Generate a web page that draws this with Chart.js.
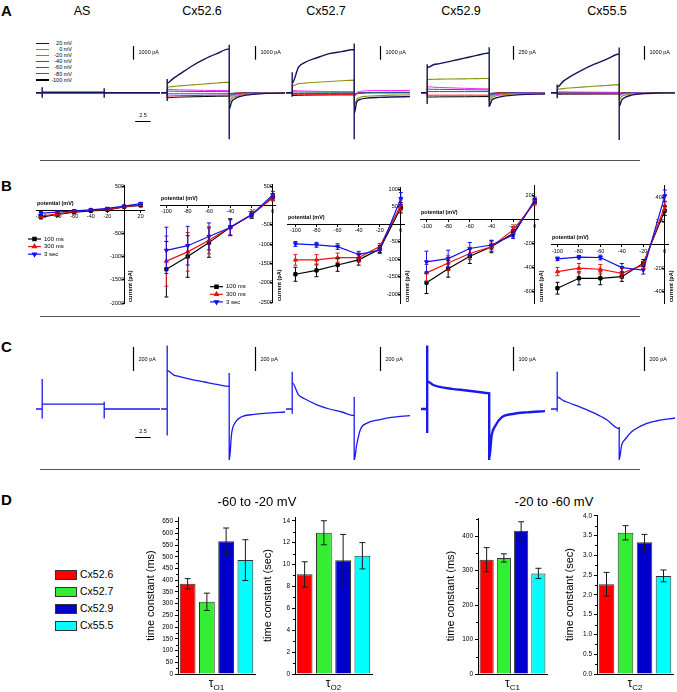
<!DOCTYPE html>
<html>
<head>
<meta charset="utf-8">
<title>Hemichannel currents</title>
<script src="https://cdn.jsdelivr.net/npm/chart.js@4.4.1/dist/chart.umd.min.js"></script>
<style>
  body { margin: 0; background: #fff; }
  #fig { position: relative; width: 677px; height: 692px; overflow: hidden;
         font-family: "Liberation Sans", Arial, sans-serif; color: #000; }
  #fig canvas, #fig .t { position: absolute; }
  .t { white-space: nowrap; }
  .letter { font-weight: bold; font-size: 15px; }
  .title { font-size: 12.5px; transform: translateX(-50%); }
</style>
</head>
<body>
<div id="fig"></div>
<script>
// ---------------- data ----------------
const cells = ['AS', 'Cx52.6', 'Cx52.7', 'Cx52.9', 'Cx55.5'];
const voltages = ['20 mV', '0 mV', '-20 mV', '-40 mV', '-60 mV', '-80 mV', '-100 mV'];

const tPre = [-1, 0];
const tPulse = [0, 1, 2, 4, 6, 8, 10];
const tTail = [10, 10.4, 11, 12, 14, 16, 19];

// A: current (pA) during the pulse / after it, rows = voltages
const pulseAS = [[30,30,30,30,30,30,30],[15,15,15,15,15,15,15],[5,5,5,5,5,5,5],[0,0,0,0,0,0,0],
                 [-10,-10,-10,-10,-10,-10,-10],[-20,-20,-20,-20,-20,-20,-20],[-30,-30,-30,-30,-30,-30,-30]];
const tailAS = [[0,0,0,0,0,0,0],[0,0,0,0,0,0,0],[0,0,0,0,0,0,0],[0,0,0,0,0,0,0],
                [0,0,0,0,0,0,0],[0,0,0,0,0,0,0],[0,0,0,0,0,0,0]];
const pulse526 = [[700,1050,1350,1950,2450,2850,3200],[400,460,500,570,640,710,770],[250,230,210,190,170,160,150],
                  [120,110,100,95,85,80,75],[-80,-80,-80,-80,-80,-80,-80],[-250,-230,-220,-210,-195,-185,-180],
                  [-380,-340,-320,-300,-280,-260,-250]];
const tail526 = [[-1200,-650,-420,-250,-110,-50,-20],[-700,-420,-280,-170,-80,-30,-10],[-450,-280,-180,-110,-50,-20,0],
                 [-300,-190,-120,-70,-30,-10,0],[-200,-120,-80,-45,-20,-5,0],[-120,-75,-45,-25,-10,0,0],
                 [-80,-50,-30,-15,-5,0,0]];
const pulse527 = [[700,1850,2200,2550,2850,3000,3150],[500,660,700,760,820,870,920],[150,130,120,100,90,80,70],
                  [60,50,45,40,35,30,30],[-60,-60,-60,-60,-60,-60,-60],[-120,-120,-120,-120,-120,-120,-120],
                  [-200,-190,-180,-170,-165,-160,-160]];
const tail527 = [[-1500,-700,-480,-400,-340,-310,-290],[-900,-480,-330,-260,-210,-180,-160],[-300,0,100,140,160,160,160],
                 [-250,-100,-40,0,20,30,30],[-200,-80,-30,0,10,10,10],[-150,-60,-20,0,0,0,0],
                 [-100,-40,-10,0,0,0,0]];
const pulse529 = [[460,510,530,580,630,680,724],[240,245,248,250,253,256,260],[110,100,95,88,80,74,70],
                  [65,62,60,58,55,52,50],[20,20,20,20,20,20,20],[-45,-45,-45,-45,-45,-45,-45],
                  [-80,-78,-76,-75,-74,-72,-70]];
const tail529 = [[-250,-140,-100,-70,-45,-30,-25],[-150,-90,-60,-40,-25,-15,-10],[-110,-65,-40,-25,-15,-8,-5],
                 [-80,-45,-30,-18,-10,-5,0],[-55,-30,-20,-10,-5,0,0],[-35,-20,-10,-5,0,0,0],
                 [-20,-10,-5,0,0,0,0]];
const pulse555 = [[410,845,1150,1650,2080,2450,2820],[250,300,340,410,470,530,590],[60,55,50,45,40,35,30],
                  [30,25,20,15,10,10,10],[-30,-30,-30,-30,-30,-30,-30],[-70,-70,-70,-70,-70,-70,-70],
                  [-110,-105,-100,-100,-95,-95,-90]];
const tail555 = [[-1000,-550,-330,-180,-70,-25,-10],[-500,-280,-170,-90,-35,-10,0],[-250,-140,-80,-40,-15,0,0],
                 [-150,-80,-45,-20,-5,0,0],[-100,-50,-25,-10,0,0,0],[-60,-30,-15,-5,0,0,0],
                 [-30,-15,-5,0,0,0,0]];
const spikeOnA = [[400,-360],[1000,-600],[1500,-300],[520,-205],[600,-400]];
const spikeOffA = [[330,-360],[3500,-3400],[3600,-3400],[830,-210],[3300,-3450]];
const scaleA = [1000, 1000, 1000, 250, 1000];

// C: single trace per cell (pA)
const pulseC = [[40,40,40,40,40,40,40],[320,285,270,245,225,205,189],[220,120,85,35,0,-25,-55],
                [115,100,92,84,78,72,66],[100,70,50,10,-35,-90,-164]];
const tailC = [[0,0,0,0,0,0,0],[-430,-200,-110,-65,-45,-35,-25],[-430,-300,-170,-120,-90,-70,-55],
               [-210,-110,-70,-35,-20,-14,-9],[-420,-300,-250,-190,-130,-100,-75]];
const spikeOnC = [[250,-80],[530,-220],[310,-40],[265,-100],[310,-20]];
const spikeOffC = [[60,-80],[300,-440],[100,-440],[70,-220],[-150,-440]];
const scaleC = [200, 200, 200, 100, 200];

// B: I-V relations (pA) at 100 ms, 300 ms and 3 sec
const ivSeries = ['100 ms', '300 ms', '3 sec'];
const potAS = [-100, -80, -60, -40, -20, 0, 20];
const pot = [-100, -80, -60, -40, -20, 0];
const ivAS = [[-150,-95,-45,-15,5,70,100],[-130,-80,-30,0,15,70,115],[-65,-45,-15,5,35,85,140]];
const errAS = [[40,30,20,15,15,20,25],[40,30,20,15,15,20,25],[30,25,20,15,15,20,25]];
const iv526 = [[-1650,-1320,-960,-560,-240,220],[-1440,-1200,-900,-560,-240,200],[-1160,-1040,-800,-570,-240,280]];
const err526 = [[720,540,380,220,90,80],[650,500,350,200,80,80],[600,500,350,200,80,90]];
const iv527 = [[-1430,-1320,-1165,-1020,-710,470],[-1020,-1020,-955,-955,-640,545],[-565,-590,-640,-865,-745,730]];
const err527 = [[200,180,180,150,100,150],[150,150,130,130,90,150],[70,70,80,90,90,170]];
const iv529 = [[-525,-409,-305,-225,-113,155],[-443,-361,-282,-225,-85,141],[-352,-324,-240,-211,-127,164]];
const err529 = [[90,70,60,50,30,20],[70,60,50,40,30,20],[90,70,50,40,30,25]];
const iv555 = [[-370,-286,-286,-272,-157,290],[-229,-200,-209,-243,-172,330],[-120,-106,-109,-195,-215,415]];
const err555 = [[50,55,55,40,30,40],[35,40,40,40,30,40],[15,15,20,35,35,50]];
const xTicksAS = [-100, -80, -60, -40, -20, 20];
const xTicks = [-100, -80, -60, -40, -20, 0];
const yTicksB = [[500,-500,-1000,-1500,-2000],[500,-500,-1000,-1500,-2000,-2500],
                 [1000,500,-500,-1000,-1500,-2000],[200,-200,-400,-600],[400,200,-200,-400]];

// D: time constants, mean and error
const groups = ['Cx52.6', 'Cx52.7', 'Cx52.9', 'Cx55.5'];
const tauO1 = [385, 308, 566, 486], errO1 = [22, 37, 57, 87];
const tauO2 = [9.1, 12.9, 10.4, 10.8], errO2 = [1.15, 1.1, 2.35, 1.2];
const tauC1 = [332, 337, 416, 292], errC1 = [35, 12, 26, 15];
const tauC2 = [2.27, 3.57, 3.33, 2.48], errC2 = [0.3, 0.18, 0.2, 0.15];
const ticksO1 = [0,50,100,150,200,250,300,350,400,450,500,550,600,650];
const ticksO2 = [0,2,4,6,8,10,12,14];
const ticksC1 = [0,100,200,300,400];
const ticksC2 = [0,0.5,1,1.5,2,2.5,3,3.5,4];

// ---------------- styles / layout ----------------
const traceColors = ['#14145a', '#8f8f10', '#ff22ff', '#117070', '#3a3aff', '#ff1111', '#000000'];
const traceWidths = [1.4, 1.1, 1, 1, 1, 1, 1];
const groupColors = ['#ff0000', '#33ee33', '#0000cc', '#00ffff'];
const ivStyles = [
  { color: '#000000', pointStyle: 'rect', rotation: 0, order: 2 },
  { color: '#ee1111', pointStyle: 'triangle', rotation: 0, order: 1 },
  { color: '#1111ee', pointStyle: 'triangle', rotation: 180, order: 0 }
];
const FONT = '"Liberation Sans", Arial, sans-serif';
Chart.defaults.font.family = FONT;
Chart.defaults.color = '#000';

const fig = document.getElementById('fig');
const pulseX = [42, 167, 292, 427, 557];     // page x of pulse onset
const barX = [133, 255, 380, 513, 644];      // page x of current scale bars
const pxPerSec = 6.2;
const gA = { top: 42, bottom: 140, base: 92.7, barPx: 13.7, barTop: 46, timeY: 121 };
const gC = { top: 340, bottom: 460, base: 409, barPx: 24, barTop: 347, timeY: 437 };

function addText(txt, left, top, cls, style) {
  const d = document.createElement('div');
  d.className = 't ' + (cls || '');
  d.textContent = txt;
  d.style.left = left + 'px';
  d.style.top = top + 'px';
  if (style) Object.assign(d.style, style);
  fig.appendChild(d);
  return d;
}

function addBox(left, top, w, h, bg, border) {
  const d = document.createElement('div');
  d.style.position = 'absolute';
  d.style.left = left + 'px'; d.style.top = top + 'px';
  d.style.width = w + 'px'; d.style.height = h + 'px';
  d.style.background = bg;
  if (border) d.style.border = border;
  fig.appendChild(d);
}

function addCanvas(left, top, w, h) {
  const c = document.createElement('canvas');
  c.width = Math.round(w); c.height = Math.round(h);
  c.style.left = Math.round(left) + 'px';
  c.style.top = Math.round(top) + 'px';
  fig.appendChild(c);
  return c;
}

function pts(xs, ys) { return xs.map((x, i) => ({ x: x, y: ys[i] })); }

function font(size, weight) { return (weight || '') + ' ' + size + 'px ' + FONT; }

// draws error bars, scale bars, axis names, legends, tau labels
const extras = {
  id: 'extras',
  afterDatasetsDraw(chart, args, o) {
    o = o || {};
    const ctx = chart.ctx, xs = chart.scales.x, ys = chart.scales.y, area = chart.chartArea;
    ctx.save();
    chart.data.datasets.forEach((ds, i) => {
      if (!ds.errors) return;
      const meta = chart.getDatasetMeta(i);
      ctx.strokeStyle = ds.errorColor || ds.borderColor;
      ctx.lineWidth = 1;
      const c = ds.errorCap || 2;
      meta.data.forEach((el, j) => {
        const raw = ds.data[j];
        const v = typeof raw === 'object' ? raw.y : raw;
        const y1 = ys.getPixelForValue(v + ds.errors[j]);
        const y2 = ys.getPixelForValue(v - ds.errors[j]);
        ctx.beginPath();
        ctx.moveTo(el.x, y1); ctx.lineTo(el.x, y2);
        ctx.moveTo(el.x - c, y1); ctx.lineTo(el.x + c, y1);
        ctx.moveTo(el.x - c, y2); ctx.lineTo(el.x + c, y2);
        ctx.stroke();
      });
    });
    ctx.strokeStyle = '#000';
    ctx.fillStyle = '#000';
    if (o.vbar) {
      const x = Math.round(xs.getPixelForValue(o.vbar.x)) + 0.5;
      const y1 = ys.getPixelForValue(o.vbar.top), y2 = ys.getPixelForValue(o.vbar.top - o.vbar.len);
      ctx.lineWidth = 1.2;
      ctx.beginPath(); ctx.moveTo(x, y1); ctx.lineTo(x, y2); ctx.stroke();
      ctx.font = font(5.5);
      ctx.textAlign = 'left'; ctx.textBaseline = 'middle';
      ctx.fillText(o.vbar.label, x + 5, (y1 + y2) / 2);
    }
    if (o.hbar) {
      const x1 = xs.getPixelForValue(o.hbar.x), x2 = xs.getPixelForValue(o.hbar.x + o.hbar.len);
      const y = Math.round(ys.getPixelForValue(o.hbar.y)) + 0.5;
      ctx.lineWidth = 1;
      ctx.beginPath(); ctx.moveTo(x1, y); ctx.lineTo(x2, y); ctx.stroke();
      ctx.font = font(5.5);
      ctx.textAlign = 'center'; ctx.textBaseline = 'bottom';
      ctx.fillText(o.hbar.label, (x1 + x2) / 2, y - 3);
    }
    if (o.axisNames) {
      const y0 = ys.getPixelForValue(0), x0 = xs.getPixelForValue(0);
      ctx.font = font(5.5, '600');
      ctx.textAlign = 'left'; ctx.textBaseline = 'bottom';
      ctx.fillText(o.axisNames.x, area.left + 1, y0 - 4);
      ctx.save();
      ctx.translate(x0 + 4, area.bottom - 1);
      ctx.rotate(-Math.PI / 2);
      ctx.textBaseline = 'top';
      ctx.fillText(o.axisNames.y, 0, 0);
      ctx.restore();
    }
    if (o.legend) {
      chart.data.datasets.forEach((ds, i) => {
        const y = o.legend.y + i * o.legend.dy;
        ctx.strokeStyle = ds.borderColor; ctx.fillStyle = ds.borderColor;
        ctx.lineWidth = 1.2;
        ctx.beginPath(); ctx.moveTo(o.legend.x, y); ctx.lineTo(o.legend.x + 13, y); ctx.stroke();
        Chart.helpers.drawPoint(ctx, { pointStyle: ds.pointStyle, rotation: ds.pointRotation, radius: 2.3, borderWidth: 1 }, o.legend.x + 6.5, y);
        ctx.fillStyle = '#000';
        ctx.font = font(6);
        ctx.textAlign = 'left'; ctx.textBaseline = 'middle';
        ctx.fillText(ds.label, o.legend.x + 16, y);
      });
    }
    if (o.minor) {
      ctx.strokeStyle = '#000'; ctx.lineWidth = 1;
      for (let v = 0; v <= ys.max + 1e-9; v += o.minor) {
        if (ys.ticks.some(t => Math.abs(t.value - v) < 1e-6)) continue;
        const y = Math.round(ys.getPixelForValue(v)) + 0.5;
        ctx.beginPath(); ctx.moveTo(area.left - 2, y); ctx.lineTo(area.left, y); ctx.stroke();
      }
    }
    if (o.tau) {
      ctx.fillStyle = '#000';
      ctx.font = font(12);
      const wMain = ctx.measureText(o.tau.main).width;
      ctx.font = font(8);
      const wSub = ctx.measureText(o.tau.sub).width;
      const x = (area.left + area.right) / 2 - (wMain + wSub) / 2;
      ctx.textAlign = 'left'; ctx.textBaseline = 'alphabetic';
      ctx.font = font(12);
      ctx.fillText(o.tau.main, x, area.bottom + 13);
      ctx.font = font(8);
      ctx.fillText(o.tau.sub, x + wMain, area.bottom + 16);
    }
    ctx.restore();
  }
};

function traceData(pulse, tail, on, off) {
  let d = pts(tPre, [0, 0]);
  if (on) d = d.concat([{ x: 0, y: on[0] }, { x: 0, y: on[1] }]);
  d = d.concat(pts(tPulse, pulse));
  if (off) d = d.concat([{ x: 10, y: off[0] }, { x: 10, y: off[1] }]);
  return d.concat(pts(tTail, tail));
}

function traceChart(k, g, pulses, tails, colors, widths, on, off, barValue, timeBar) {
  const left = pulseX[k] - pxPerSec;
  const canvas = addCanvas(left, g.top, 20 * pxPerSec, g.bottom - g.top);
  const perPx = barValue / g.barPx;
  const datasets = pulses.map((p, i) => ({
    data: traceData(p, tails[i], i === 0 ? on : null, i === 0 ? off : null),
    borderColor: colors[i], borderWidth: widths[i], pointRadius: 0,
    cubicInterpolationMode: 'monotone', fill: false
  }));
  new Chart(canvas, {
    type: 'line',
    data: { datasets: datasets },
    options: {
      responsive: false, animation: false, events: [],
      layout: { padding: 0 },
      plugins: {
        legend: { display: false }, tooltip: { enabled: false },
        extras: {
          vbar: { x: (barX[k] - left) / pxPerSec - 1, top: (g.base - g.barTop) * perPx, len: barValue, label: barValue + ' pA' },
          hbar: timeBar ? { x: 15, y: -(g.timeY - g.base) * perPx, len: 2.5, label: '2.5' } : null
        }
      },
      scales: {
        x: { type: 'linear', display: false, min: -1, max: 19 },
        y: { type: 'linear', display: false, min: -(g.bottom - g.base) * perPx, max: (g.base - g.top) * perPx }
      }
    },
    plugins: [extras]
  });
}

function ivChart(area, xr, yr, xt, yt, xs, rows, errs, legendAt) {
  const P = 14;
  const cl = Math.round(area[0] - P), ct = Math.round(area[1] - P);
  const canvas = addCanvas(cl, ct, area[2] - area[0] + 2 * P, area[3] - area[1] + 2 * P);
  new Chart(canvas, {
    type: 'line',
    data: {
      datasets: rows.map((r, k) => ({
        label: ivSeries[k], data: pts(xs, r), errors: errs[k],
        borderColor: ivStyles[k].color, backgroundColor: ivStyles[k].color, borderWidth: 1.2,
        pointStyle: ivStyles[k].pointStyle, pointRotation: ivStyles[k].rotation,
        pointRadius: 2.3, pointBorderWidth: 1, order: ivStyles[k].order
      }))
    },
    options: {
      responsive: false, animation: false, events: [],
      layout: { padding: P },
      plugins: {
        legend: { display: false }, tooltip: { enabled: false },
        extras: {
          axisNames: { x: 'potential (mV)', y: 'current (pA)' },
          legend: legendAt ? { x: legendAt[0] - cl, y: legendAt[1] - ct, dy: 7.6 } : null
        }
      },
      scales: {
        x: {
          type: 'linear', position: { y: 0 }, min: xr[0], max: xr[1],
          afterBuildTicks: s => { s.ticks = xt.map(v => ({ value: v })); },
          ticks: { font: { size: 5.5 }, padding: 1, autoSkip: false, maxRotation: 0, callback: v => String(v) },
          grid: { drawOnChartArea: false, tickLength: 2, color: '#000' },
          border: { color: '#000', width: 1 }
        },
        y: {
          type: 'linear', position: { x: 0 }, min: yr[0], max: yr[1],
          afterBuildTicks: s => { s.ticks = yt.map(v => ({ value: v })); },
          ticks: { font: { size: 5.5 }, padding: 1, autoSkip: false, callback: v => String(v) },
          grid: { drawOnChartArea: false, tickLength: 2, color: '#000' },
          border: { color: '#000', width: 1 }
        }
      }
    },
    plugins: [extras]
  });
}

function tauChart(area, yMax, ticks, vals, errs, yTitle, sub, minor, oneDecimal) {
  const W = 34, H = 18, T = 6, R = 4;
  const canvas = addCanvas(area[0] - W, area[1] - T, area[2] - area[0] + W + R, area[3] - area[1] + T + H);
  new Chart(canvas, {
    type: 'bar',
    data: {
      labels: groups,
      datasets: [{
        data: vals, errors: errs, errorColor: '#1a1a1a', errorCap: 3,
        backgroundColor: groupColors, borderColor: '#333', borderWidth: 1,
        barPercentage: 0.82, categoryPercentage: 1
      }]
    },
    options: {
      responsive: false, animation: false, events: [],
      layout: { padding: { left: 0, top: T, right: R, bottom: 0 } },
      plugins: {
        legend: { display: false }, tooltip: { enabled: false },
        extras: { tau: { main: 'τ', sub: sub }, minor: minor }
      },
      scales: {
        x: {
          grid: { display: false }, ticks: { display: false },
          border: { color: '#000', width: 1 },
          afterFit: s => { s.height = H; }
        },
        y: {
          min: 0, max: yMax,
          afterBuildTicks: s => { s.ticks = ticks.map(v => ({ value: v })); },
          ticks: { font: { size: 6.5 }, padding: 2, autoSkip: false,
                   callback: v => oneDecimal ? Number(v).toFixed(1) : String(v) },
          grid: { drawOnChartArea: false, tickLength: 3, color: '#000' },
          border: { color: '#000', width: 1 },
          title: { display: true, text: yTitle, font: { size: 11 }, padding: { top: 0, bottom: 0 } },
          afterFit: s => { s.width = W; }
        }
      }
    },
    plugins: [extras]
  });
}

// ---------------- panel A ----------------
addText('A', 1, 2, 'letter');
const titleX = [82, 202, 326, 461, 607];
cells.forEach((c, i) => addText(c, titleX[i], 4, 'title'));
voltages.forEach((v, i) => {
  const yc = 43.3 + i * 6.1;
  addBox(36, yc - 0.6, 13, 1.3, traceColors[i]);
  addText(v, 50, yc - 3.3, '', { width: '22px', textAlign: 'right', fontSize: '5.5px', lineHeight: '6.5px' });
});
const pulsesA = [pulseAS, pulse526, pulse527, pulse529, pulse555];
const tailsA = [tailAS, tail526, tail527, tail529, tail555];
cells.forEach((c, k) => traceChart(k, gA, pulsesA[k], tailsA[k], traceColors, traceWidths,
  spikeOnA[k], spikeOffA[k], scaleA[k], k === 0));
addBox(40, 160, 600, 1, '#555');

// ---------------- panel B ----------------
addText('B', 1, 177, 'letter');
ivChart([35.7, 184.8, 144, 302.3], [-106, 24], [-2000, 540], xTicksAS, yTicksB[0], potAS, ivAS, errAS, [28, 239]);
ivChart([160.3, 184.4, 275.4, 302.7], [-106, 2], [-2500, 560], xTicks, yTicksB[1], pot, iv526, err526, [210, 286.7]);
ivChart([286.6, 187, 403.2, 303], [-108, 3], [-2250, 1060], xTicks, yTicksB[2], pot, iv527, err527, null);
ivChart([420.2, 185, 538.2, 303], [-106, 3], [-694, 289], xTicks, yTicksB[3], pot, iv529, err529, null);
ivChart([550.8, 185, 668.2, 303], [-106, 3], [-496, 508], xTicks, yTicksB[4], pot, iv555, err555, null);
addBox(40, 316, 600, 1, '#555');

// ---------------- panel C ----------------
addText('C', 1, 338, 'letter');
cells.forEach((c, k) => traceChart(k, gC, [pulseC[k]], [tailC[k]], ['#1a1aee'], [k === 3 ? 2.4 : 1.3],
  spikeOnC[k], spikeOffC[k], scaleC[k], k === 0));
addBox(40, 469, 600, 1, '#555');

// ---------------- panel D ----------------
addText('D', 1, 491, 'letter');
addText('-60 to -20 mV', 257, 494, 'title', { fontSize: '13px' });
addText('-20 to -60 mV', 554, 494, 'title', { fontSize: '13px' });
groups.forEach((g, i) => {
  const yc = 574.3 + i * 17.2;
  addBox(55, yc - 4.5, 20, 8, groupColors[i], '1px solid #333');
  addText(g, 80, yc - 6.5, '', { fontSize: '10.5px', lineHeight: '13px' });
});
tauChart([178, 517, 255, 674], 670, ticksO1, tauO1, errO1, 'time constant (ms)', 'O1', 25, false);
tauChart([295, 517, 372, 674], 14.34, ticksO2, tauO2, errO2, 'time constant (sec)', 'O2', 1, false);
tauChart([478, 518, 547, 674], 453, ticksC1, tauC1, errC1, 'time constant (ms)', 'C1', 50, false);
tauChart([597, 515, 673, 674], 4.02, ticksC2, tauC2, errC2, 'time constant (sec)', 'C2', 0.25, true);
</script>
</body>
</html>
